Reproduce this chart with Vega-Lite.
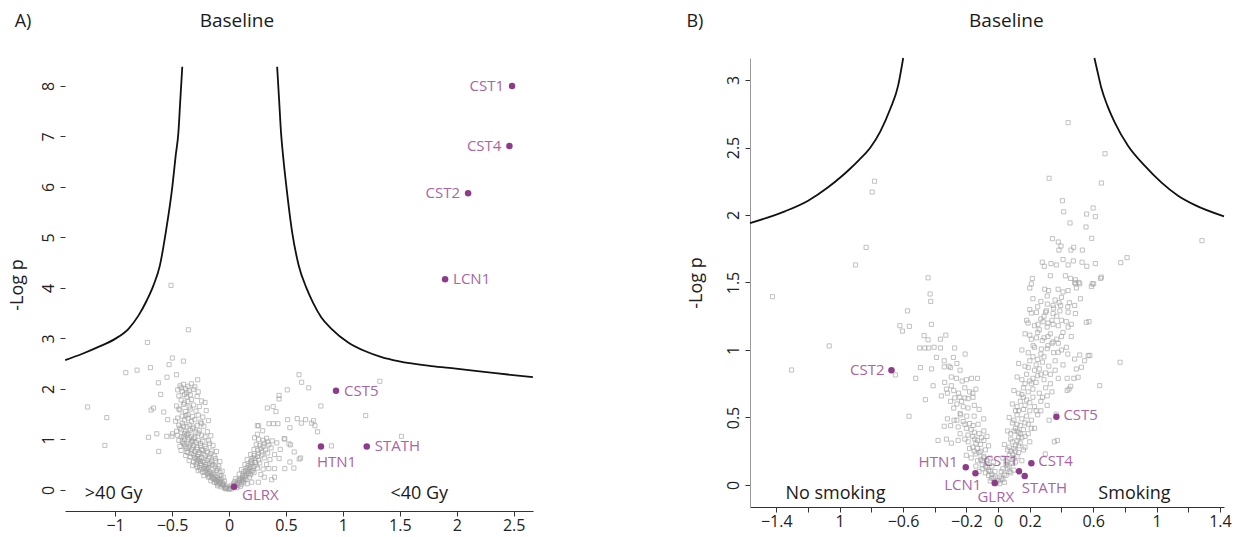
{
  "$schema": "https://vega.github.io/schema/vega-lite/v6.json",
  "padding": {"left": 8, "top": 12, "right": 4, "bottom": 2},
  "spacing": 149,
  "config": {
    "view": {"stroke": null},
    "font": "Open Sans",
    "axis": {
      "grid": false,
      "domainColor": "#333333",
      "tickColor": "#333333",
      "labelColor": "#222222",
      "titleColor": "#222222",
      "labelFont": "Open Sans",
      "titleFont": "Open Sans",
      "labelFontSize": 16,
      "titleFontSize": 18,
      "titleFontWeight": "normal",
      "tickSize": 5,
      "labelPadding": 4,
      "format": "~g"
    },
    "axisX": {"labelPadding": 1}
  },
  "datasets": {
    "ptsA": [
      {"x":-0.509,"y":4.05},{"x":-0.356,"y":3.17},{"x":-0.716,"y":2.92},{"x":-0.497,"y":2.61},{"x":-0.40,"y":2.55},
      {"x":-0.526,"y":2.48},{"x":-0.69,"y":2.42},{"x":-0.807,"y":2.37},{"x":-0.906,"y":2.32},{"x":-0.461,"y":2.28},
      {"x":-0.544,"y":2.23},{"x":-0.62,"y":2.12},{"x":-0.275,"y":2.18},{"x":-0.60,"y":1.89},{"x":-1.242,"y":1.64},
      {"x":-0.663,"y":1.62},{"x":-0.684,"y":1.58},{"x":-1.073,"y":1.43},{"x":-0.538,"y":1.39},{"x":-0.707,"y":1.04},
      {"x":-0.634,"y":1.11},{"x":-0.546,"y":1.06},{"x":-0.50,"y":1.06},{"x":-1.09,"y":0.88},{"x":-0.617,"y":0.76},
      {"x":-0.573,"y":1.54},{"x":-0.496,"y":1.11},
      {"x":-0.43,"y":2.06},{"x":-0.40,"y":2.09},{"x":-0.36,"y":2.05},{"x":-0.33,"y":2.1},{"x":-0.30,"y":2.04},
      {"x":-0.45,"y":1.98},{"x":-0.41,"y":1.95},{"x":-0.38,"y":2.0},{"x":-0.35,"y":1.96},{"x":-0.31,"y":1.99},{"x":-0.27,"y":1.94},
      {"x":-0.44,"y":1.86},{"x":-0.39,"y":1.89},{"x":-0.37,"y":1.84},{"x":-0.34,"y":1.88},{"x":-0.28,"y":1.85},
      {"x":-0.42,"y":1.78},{"x":-0.36,"y":1.75},{"x":-0.33,"y":1.79},{"x":-0.24,"y":1.76},{"x":-0.21,"y":1.73},
      {"x":-0.46,"y":1.66},{"x":-0.40,"y":1.69},{"x":-0.35,"y":1.64},{"x":-0.31,"y":1.68},{"x":-0.26,"y":1.65},
      {"x":-0.43,"y":1.58},{"x":-0.38,"y":1.55},{"x":-0.34,"y":1.6},{"x":-0.29,"y":1.56},{"x":-0.20,"y":1.57},
      {"x":-0.41,"y":1.46},{"x":-0.36,"y":1.49},{"x":-0.32,"y":1.45},{"x":-0.27,"y":1.48},{"x":-0.23,"y":1.44},
      {"x":-0.47,"y":1.36},{"x":-0.39,"y":1.38},{"x":-0.33,"y":1.35},{"x":-0.30,"y":1.39},{"x":-0.25,"y":1.34},{"x":-0.18,"y":1.37},
      {"x":-0.44,"y":1.28},{"x":-0.37,"y":1.25},{"x":-0.35,"y":1.29},{"x":-0.31,"y":1.24},{"x":-0.28,"y":1.27},{"x":-0.22,"y":1.26},
      {"x":-0.46,"y":1.16},{"x":-0.42,"y":1.19},{"x":-0.38,"y":1.15},{"x":-0.34,"y":1.18},{"x":-0.29,"y":1.14},{"x":-0.26,"y":1.17},{"x":-0.19,"y":1.15},
      {"x":-0.45,"y":1.08},{"x":-0.40,"y":1.05},{"x":-0.37,"y":1.09},{"x":-0.33,"y":1.06},{"x":-0.30,"y":1.04},{"x":-0.24,"y":1.08},{"x":-0.21,"y":1.05},{"x":-0.16,"y":1.07},
      {"x":-0.44,"y":0.98},{"x":-0.41,"y":0.95},{"x":-0.36,"y":0.99},{"x":-0.32,"y":0.96},{"x":-0.29,"y":0.94},{"x":-0.27,"y":0.98},{"x":-0.23,"y":0.96},{"x":-0.18,"y":0.97},
      {"x":-0.43,"y":0.86},{"x":-0.39,"y":0.89},{"x":-0.35,"y":0.85},{"x":-0.31,"y":0.88},{"x":-0.28,"y":0.84},{"x":-0.25,"y":0.87},{"x":-0.21,"y":0.86},{"x":-0.14,"y":0.88},
      {"x":-0.42,"y":0.78},{"x":-0.37,"y":0.75},{"x":-0.33,"y":0.79},{"x":-0.30,"y":0.76},{"x":-0.26,"y":0.74},{"x":-0.23,"y":0.78},{"x":-0.19,"y":0.75},{"x":-0.15,"y":0.77},{"x":-0.11,"y":0.76},
      {"x":-0.38,"y":0.68},{"x":-0.34,"y":0.65},{"x":-0.31,"y":0.69},{"x":-0.28,"y":0.66},{"x":-0.24,"y":0.64},{"x":-0.21,"y":0.68},{"x":-0.17,"y":0.65},{"x":-0.13,"y":0.67},
      {"x":-0.35,"y":0.58},{"x":-0.31,"y":0.55},{"x":-0.27,"y":0.59},{"x":-0.25,"y":0.56},{"x":-0.22,"y":0.54},{"x":-0.19,"y":0.58},{"x":-0.15,"y":0.55},{"x":-0.12,"y":0.57},{"x":-0.08,"y":0.56},
      {"x":-0.32,"y":0.48},{"x":-0.28,"y":0.45},{"x":-0.24,"y":0.49},{"x":-0.21,"y":0.46},{"x":-0.18,"y":0.44},{"x":-0.15,"y":0.48},{"x":-0.12,"y":0.45},{"x":-0.09,"y":0.47},
      {"x":-0.27,"y":0.38},{"x":-0.23,"y":0.35},{"x":-0.20,"y":0.39},{"x":-0.17,"y":0.36},{"x":-0.14,"y":0.34},{"x":-0.11,"y":0.38},{"x":-0.08,"y":0.35},{"x":-0.06,"y":0.37},
      {"x":-0.22,"y":0.28},{"x":-0.18,"y":0.25},{"x":-0.15,"y":0.29},{"x":-0.12,"y":0.26},{"x":-0.10,"y":0.24},{"x":-0.07,"y":0.28},{"x":-0.05,"y":0.25},
      {"x":-0.16,"y":0.18},{"x":-0.13,"y":0.15},{"x":-0.10,"y":0.19},{"x":-0.08,"y":0.16},{"x":-0.06,"y":0.14},{"x":-0.04,"y":0.17},
      {"x":-0.10,"y":0.08},{"x":-0.07,"y":0.06},{"x":-0.05,"y":0.09},{"x":-0.03,"y":0.05},{"x":-0.02,"y":0.07},{"x":-0.03,"y":0.02},{"x":0.0,"y":0.01},
      {"x":-0.27,"y":1.12},{"x":-0.31,"y":1.01},{"x":-0.25,"y":0.92},{"x":-0.34,"y":0.91},{"x":-0.2,"y":0.82},{"x":-0.28,"y":0.8},{"x":-0.22,"y":0.71},
      {"x":-0.18,"y":0.62},{"x":-0.29,"y":0.61},{"x":-0.14,"y":0.5},{"x":-0.25,"y":0.52},{"x":-0.19,"y":0.41},{"x":-0.13,"y":0.31},{"x":-0.09,"y":0.21},
      {"x":-0.35,"y":1.03},{"x":-0.39,"y":1.11},{"x":-0.32,"y":1.21},{"x":-0.41,"y":1.32},{"x":-0.36,"y":1.42},{"x":-0.24,"y":1.31},{"x":-0.17,"y":0.92},
      {"x":-0.12,"y":0.62},{"x":-0.1,"y":0.42},{"x":-0.16,"y":0.72},{"x":-0.37,"y":0.82},{"x":-0.4,"y":0.92},
      {"x":-0.05,"y":0.12},{"x":-0.08,"y":0.13},{"x":-0.11,"y":0.14},{"x":-0.07,"y":0.22},{"x":-0.12,"y":0.2},{"x":-0.14,"y":0.23},{"x":-0.17,"y":0.27},
      {"x":-0.19,"y":0.31},{"x":-0.16,"y":0.33},{"x":-0.21,"y":0.35},{"x":-0.22,"y":0.42},{"x":-0.26,"y":0.44},{"x":-0.25,"y":0.4},{"x":-0.29,"y":0.5},
      {"x":-0.2,"y":0.5},{"x":-0.17,"y":0.52},{"x":-0.23,"y":0.57},{"x":-0.28,"y":0.55},{"x":-0.3,"y":0.64},{"x":-0.26,"y":0.62},{"x":-0.33,"y":0.72},
      {"x":-0.27,"y":0.7},{"x":-0.24,"y":0.8},{"x":-0.32,"y":0.83},{"x":-0.36,"y":0.74},{"x":-0.38,"y":0.86},{"x":-0.33,"y":0.95},{"x":-0.39,"y":1.0},
      {"x":-0.42,"y":1.05},{"x":-0.36,"y":1.12},{"x":-0.43,"y":1.22},{"x":-0.4,"y":1.26},{"x":-0.45,"y":1.42},{"x":-0.38,"y":1.47},{"x":-0.44,"y":1.6},
      {"x":-0.39,"y":1.72},{"x":-0.37,"y":1.92},{"x":-0.42,"y":2.02},
      {"x":-0.02,"y":0.03},{"x":-0.04,"y":0.04},{"x":-0.06,"y":0.1},{"x":-0.09,"y":0.11},{"x":-0.11,"y":0.17},{"x":-0.13,"y":0.21},
      {"x":-0.15,"y":0.24},{"x":-0.18,"y":0.32},{"x":-0.2,"y":0.43},
      {"x":0.615,"y":2.28},{"x":0.638,"y":2.13},{"x":0.70,"y":2.02},{"x":0.512,"y":1.98},{"x":0.44,"y":1.87},{"x":0.44,"y":1.80},
      {"x":0.807,"y":1.66},{"x":0.337,"y":1.62},{"x":0.413,"y":1.55},{"x":1.20,"y":1.47},{"x":0.515,"y":1.39},{"x":0.60,"y":1.41},
      {"x":0.673,"y":1.39},{"x":0.743,"y":1.37},{"x":0.755,"y":1.27},{"x":0.726,"y":1.32},{"x":0.635,"y":1.32},{"x":0.351,"y":1.31},
      {"x":0.39,"y":1.31},{"x":0.43,"y":1.31},{"x":0.249,"y":1.27},{"x":0.535,"y":1.23},{"x":0.778,"y":1.15},{"x":0.296,"y":1.17},
      {"x":0.49,"y":1.01},{"x":0.541,"y":0.89},{"x":0.90,"y":0.87},{"x":1.515,"y":1.06},{"x":1.325,"y":2.15},{"x":0.573,"y":0.75},
      {"x":0.629,"y":0.63},{"x":0.535,"y":0.55},{"x":0.40,"y":0.42},{"x":0.49,"y":0.42},{"x":0.40,"y":0.25},{"x":0.31,"y":0.25},
      {"x":0.258,"y":0.15},{"x":0.57,"y":0.43},{"x":0.617,"y":0.61},{"x":0.375,"y":0.2},{"x":0.485,"y":1.01},{"x":0.527,"y":0.91},
      {"x":0.225,"y":1.03},{"x":0.25,"y":1.1},{"x":0.26,"y":1.27},{"x":0.388,"y":1.65},
      {"x":0.01,"y":0.03},{"x":0.03,"y":0.05},{"x":0.07,"y":0.04},{"x":0.04,"y":0.12},{"x":0.06,"y":0.1},{"x":0.09,"y":0.14},{"x":0.11,"y":0.11},{"x":0.13,"y":0.15},
      {"x":0.06,"y":0.22},{"x":0.09,"y":0.2},{"x":0.12,"y":0.24},{"x":0.15,"y":0.21},{"x":0.18,"y":0.25},{"x":0.09,"y":0.31},{"x":0.12,"y":0.29},{"x":0.15,"y":0.33},
      {"x":0.19,"y":0.3},{"x":0.22,"y":0.34},{"x":0.11,"y":0.4},{"x":0.15,"y":0.38},{"x":0.18,"y":0.42},{"x":0.21,"y":0.39},{"x":0.25,"y":0.43},{"x":0.3,"y":0.41},
      {"x":0.14,"y":0.5},{"x":0.17,"y":0.48},{"x":0.2,"y":0.52},{"x":0.24,"y":0.49},{"x":0.27,"y":0.53},{"x":0.33,"y":0.5},{"x":0.16,"y":0.6},{"x":0.2,"y":0.58},
      {"x":0.23,"y":0.62},{"x":0.26,"y":0.59},{"x":0.31,"y":0.63},{"x":0.36,"y":0.6},{"x":0.19,"y":0.7},{"x":0.22,"y":0.68},{"x":0.26,"y":0.72},{"x":0.29,"y":0.69},
      {"x":0.34,"y":0.73},{"x":0.4,"y":0.7},{"x":0.22,"y":0.8},{"x":0.25,"y":0.78},{"x":0.28,"y":0.82},{"x":0.32,"y":0.79},{"x":0.37,"y":0.83},{"x":0.24,"y":0.9},
      {"x":0.27,"y":0.88},{"x":0.31,"y":0.92},{"x":0.35,"y":0.89},{"x":0.42,"y":0.93},{"x":0.26,"y":1.0},{"x":0.3,"y":0.98},{"x":0.33,"y":1.02},{"x":0.38,"y":0.97},
      {"x":0.45,"y":0.8},{"x":0.44,"y":0.62},{"x":0.35,"y":0.42},{"x":0.28,"y":0.3},{"x":0.2,"y":0.15},{"x":0.16,"y":0.12},{"x":0.1,"y":0.07},
      {"x":0.02,"y":0.08},{"x":0.05,"y":0.16},{"x":0.08,"y":0.18},{"x":0.1,"y":0.22},{"x":0.14,"y":0.26},{"x":0.17,"y":0.32},{"x":0.13,"y":0.36},
      {"x":0.2,"y":0.36},{"x":0.16,"y":0.44},{"x":0.22,"y":0.46},{"x":0.19,"y":0.55},{"x":0.23,"y":0.54},{"x":0.25,"y":0.66},{"x":0.21,"y":0.63},
      {"x":0.29,"y":0.75},{"x":0.3,"y":0.86},{"x":0.34,"y":0.95},
      {"x":0.02,"y":0.02},{"x":0.04,"y":0.07},{"x":0.07,"y":0.12},{"x":0.08,"y":0.09},{"x":0.11,"y":0.18},{"x":0.13,"y":0.21},{"x":0.14,"y":0.29},
      {"x":0.17,"y":0.36},{"x":0.19,"y":0.46},{"x":0.12,"y":0.18}
    ],
    "ptsB": [
      {"x":-0.78,"y":2.25},{"x":-0.795,"y":2.17},{"x":-0.833,"y":1.76},{"x":-0.90,"y":1.63},{"x":-1.424,"y":1.395},{"x":-0.442,"y":1.535},
      {"x":-0.429,"y":1.415},{"x":-0.425,"y":1.36},{"x":-0.572,"y":1.29},{"x":-0.62,"y":1.18},{"x":-0.604,"y":1.14},{"x":-0.56,"y":1.175},
      {"x":-0.421,"y":1.19},{"x":-0.467,"y":1.106},{"x":-0.442,"y":1.076},{"x":-0.364,"y":1.08},{"x":-0.33,"y":1.11},{"x":-1.066,"y":1.03},
      {"x":-0.495,"y":1.015},{"x":-0.463,"y":1.015},{"x":-0.438,"y":1.015},{"x":-0.404,"y":1.02},{"x":-0.364,"y":1.015},{"x":-0.274,"y":1.015},
      {"x":-0.208,"y":0.97},{"x":-0.389,"y":0.945},{"x":-0.34,"y":0.92},{"x":-0.282,"y":0.945},{"x":-1.304,"y":0.852},{"x":-0.648,"y":0.815},
      {"x":-0.49,"y":0.87},{"x":-0.42,"y":0.86},{"x":-0.34,"y":0.875},{"x":-0.30,"y":0.87},{"x":-0.52,"y":0.79},{"x":-0.295,"y":0.80},
      {"x":-0.263,"y":0.79},{"x":-0.227,"y":0.77},{"x":-0.2,"y":0.78},{"x":-0.168,"y":0.79},{"x":-0.13,"y":0.79},{"x":-0.41,"y":0.735},
      {"x":-0.337,"y":0.76},{"x":-0.326,"y":0.71},{"x":-0.295,"y":0.735},{"x":-0.358,"y":0.66},{"x":-0.459,"y":0.632},{"x":-0.274,"y":0.645},
      {"x":-0.242,"y":0.65},{"x":-0.21,"y":0.645},{"x":-0.158,"y":0.65},{"x":-0.562,"y":0.509},{"x":-0.32,"y":0.49},{"x":-0.278,"y":0.48},
      {"x":-0.236,"y":0.52},{"x":-0.198,"y":0.51},{"x":-0.151,"y":0.51},{"x":-0.091,"y":0.49},{"x":-0.34,"y":0.435},{"x":-0.3,"y":0.44},
      {"x":-0.252,"y":0.43},{"x":-0.21,"y":0.45},{"x":-0.18,"y":0.455},{"x":-0.158,"y":0.44},{"x":-0.126,"y":0.45},{"x":-0.379,"y":0.33},
      {"x":-0.326,"y":0.34},{"x":-0.295,"y":0.31},{"x":-0.252,"y":0.33},{"x":-0.21,"y":0.34},{"x":-0.189,"y":0.32},{"x":-0.147,"y":0.34},{"x":-0.105,"y":0.35},
      {"x":-0.2,"y":0.22},{"x":-0.17,"y":0.2},{"x":-0.14,"y":0.23},{"x":-0.11,"y":0.19},{"x":-0.09,"y":0.21},{"x":-0.07,"y":0.18},{"x":-0.05,"y":0.2},{"x":-0.03,"y":0.17},
      {"x":-0.16,"y":0.28},{"x":-0.13,"y":0.27},{"x":-0.11,"y":0.3},{"x":-0.08,"y":0.26},{"x":-0.06,"y":0.29},
      {"x":-0.12,"y":0.1},{"x":-0.1,"y":0.12},{"x":-0.08,"y":0.09},{"x":-0.06,"y":0.11},{"x":-0.04,"y":0.08},{"x":-0.02,"y":0.1},
      {"x":-0.05,"y":0.03},{"x":-0.03,"y":0.05},{"x":-0.01,"y":0.02},
      {"x":-0.24,"y":0.38},{"x":-0.19,"y":0.37},{"x":-0.15,"y":0.39},{"x":-0.12,"y":0.38},{"x":-0.09,"y":0.4},{"x":-0.07,"y":0.36},
      {"x":-0.26,"y":0.6},{"x":-0.22,"y":0.58},{"x":-0.19,"y":0.57},{"x":-0.15,"y":0.59},{"x":-0.12,"y":0.56},
      {"x":-0.28,"y":0.7},{"x":-0.25,"y":0.68},{"x":-0.21,"y":0.72},{"x":-0.18,"y":0.69},{"x":-0.14,"y":0.71},
      {"x":-0.31,"y":0.88},{"x":-0.26,"y":0.9},{"x":-0.24,"y":0.85},
      {"x":-0.14,"y":0.14},{"x":-0.1,"y":0.15},{"x":-0.07,"y":0.13},{"x":-0.04,"y":0.14},
      {"x":-0.02,"y":0.06},{"x":-0.04,"y":0.05},{"x":-0.06,"y":0.07},{"x":-0.08,"y":0.14},{"x":-0.1,"y":0.18},{"x":-0.13,"y":0.18},{"x":-0.12,"y":0.24},
      {"x":-0.15,"y":0.25},{"x":-0.18,"y":0.27},{"x":-0.09,"y":0.33},{"x":-0.13,"y":0.33},{"x":-0.17,"y":0.41},{"x":-0.2,"y":0.42},{"x":-0.22,"y":0.47},
      {"x":-0.26,"y":0.48},{"x":-0.24,"y":0.53},{"x":-0.28,"y":0.57},{"x":-0.3,"y":0.62},{"x":-0.32,"y":0.68},{"x":-0.23,"y":0.62},{"x":-0.19,"y":0.64},{"x":-0.16,"y":0.68},
      {"x":-0.02,"y":0.01},{"x":-0.05,"y":0.1},{"x":-0.07,"y":0.16},{"x":-0.09,"y":0.2},{"x":-0.11,"y":0.25},{"x":-0.14,"y":0.31},{"x":-0.16,"y":0.36},
      {"x":0.442,"y":2.684},{"x":0.675,"y":2.454},{"x":0.322,"y":2.272},{"x":0.652,"y":2.237},{"x":0.406,"y":2.106},{"x":0.414,"y":2.024},
      {"x":0.60,"y":2.052},{"x":0.559,"y":2.007},{"x":0.614,"y":1.988},{"x":0.454,"y":1.941},{"x":0.555,"y":1.911},{"x":0.591,"y":1.827},
      {"x":0.343,"y":1.825},{"x":0.38,"y":1.80},{"x":0.397,"y":1.77},{"x":0.384,"y":1.74},{"x":0.477,"y":1.76},{"x":0.46,"y":1.74},
      {"x":0.532,"y":1.74},{"x":1.287,"y":1.81},{"x":0.279,"y":1.65},{"x":0.292,"y":1.62},{"x":0.334,"y":1.64},{"x":0.368,"y":1.63},
      {"x":0.41,"y":1.67},{"x":0.442,"y":1.63},{"x":0.475,"y":1.66},{"x":0.53,"y":1.65},{"x":0.56,"y":1.62},{"x":0.614,"y":1.64},
      {"x":0.774,"y":1.647},{"x":0.814,"y":1.684},{"x":0.216,"y":1.53},{"x":0.33,"y":1.55},{"x":0.425,"y":1.55},{"x":0.458,"y":1.53},
      {"x":0.488,"y":1.52},{"x":0.51,"y":1.50},{"x":0.49,"y":1.49},{"x":0.647,"y":1.53},{"x":0.595,"y":1.49},
      {"x":0.21,"y":1.49},{"x":0.294,"y":1.45},{"x":0.319,"y":1.44},{"x":0.379,"y":1.45},{"x":0.41,"y":1.43},{"x":0.442,"y":1.44},
      {"x":0.483,"y":1.5},{"x":0.515,"y":1.49},{"x":0.494,"y":1.46},{"x":0.589,"y":1.47},{"x":0.2,"y":1.459},
      {"x":0.311,"y":1.34},{"x":0.347,"y":1.33},{"x":0.385,"y":1.35},{"x":0.395,"y":1.33},{"x":0.442,"y":1.28},{"x":0.483,"y":1.33},
      {"x":0.305,"y":1.29},{"x":0.347,"y":1.27},{"x":0.488,"y":1.27},{"x":0.21,"y":1.274},{"x":0.242,"y":1.279},{"x":0.557,"y":1.205},
      {"x":0.189,"y":1.2},{"x":0.252,"y":1.19},{"x":0.284,"y":1.21},{"x":0.315,"y":1.2},{"x":0.347,"y":1.19},{"x":0.40,"y":1.22},
      {"x":0.442,"y":1.17},{"x":0.462,"y":1.19},{"x":0.2,"y":1.11},{"x":0.242,"y":1.09},{"x":0.279,"y":1.07},{"x":0.315,"y":1.1},
      {"x":0.347,"y":1.06},{"x":0.40,"y":1.1},{"x":0.38,"y":1.05},{"x":0.462,"y":1.1},{"x":0.221,"y":1.032},{"x":0.273,"y":1.007},
      {"x":0.315,"y":1.032},{"x":0.379,"y":0.983},{"x":0.431,"y":1.02},{"x":0.483,"y":0.933},{"x":0.515,"y":0.963},{"x":0.568,"y":0.958},
      {"x":0.546,"y":0.921},{"x":0.494,"y":0.859},{"x":0.526,"y":0.872},{"x":0.505,"y":0.798},{"x":0.448,"y":0.711},{"x":0.458,"y":0.731},
      {"x":0.641,"y":0.736},{"x":0.77,"y":0.909},{"x":0.574,"y":1.21},{"x":0.652,"y":1.54},{"x":0.603,"y":1.49},{"x":0.579,"y":0.96},
      {"x":0.436,"y":0.79},{"x":0.478,"y":0.79},{"x":0.436,"y":0.70},{"x":0.322,"y":0.48},{"x":0.367,"y":0.525},{"x":0.355,"y":0.32},
      {"x":0.374,"y":0.33},{"x":0.298,"y":0.23},
      {"x":0.22,"y":1.38},{"x":0.27,"y":1.36},{"x":0.31,"y":1.4},{"x":0.36,"y":1.37},{"x":0.40,"y":1.39},{"x":0.45,"y":1.35},{"x":0.52,"y":1.38},
      {"x":0.20,"y":1.3},{"x":0.25,"y":1.32},{"x":0.30,"y":1.28},{"x":0.35,"y":1.31},{"x":0.39,"y":1.29},{"x":0.44,"y":1.32},
      {"x":0.18,"y":1.22},{"x":0.23,"y":1.18},{"x":0.27,"y":1.23},{"x":0.31,"y":1.17},{"x":0.34,"y":1.22},{"x":0.38,"y":1.18},{"x":0.43,"y":1.21},
      {"x":0.17,"y":1.12},{"x":0.21,"y":1.08},{"x":0.25,"y":1.13},{"x":0.29,"y":1.09},{"x":0.33,"y":1.12},{"x":0.37,"y":1.08},{"x":0.41,"y":1.13},
      {"x":0.15,"y":1.0},{"x":0.19,"y":0.98},{"x":0.23,"y":1.02},{"x":0.27,"y":0.97},{"x":0.31,"y":1.01},{"x":0.35,"y":0.98},{"x":0.40,"y":1.0},{"x":0.44,"y":0.97},
      {"x":0.13,"y":0.9},{"x":0.17,"y":0.88},{"x":0.20,"y":0.92},{"x":0.24,"y":0.89},{"x":0.28,"y":0.91},{"x":0.32,"y":0.88},{"x":0.36,"y":0.92},{"x":0.41,"y":0.89},
      {"x":0.12,"y":0.8},{"x":0.15,"y":0.78},{"x":0.18,"y":0.82},{"x":0.22,"y":0.79},{"x":0.25,"y":0.81},{"x":0.29,"y":0.78},{"x":0.33,"y":0.82},{"x":0.38,"y":0.79},
      {"x":0.10,"y":0.7},{"x":0.13,"y":0.68},{"x":0.16,"y":0.72},{"x":0.19,"y":0.69},{"x":0.22,"y":0.71},{"x":0.26,"y":0.68},{"x":0.30,"y":0.72},{"x":0.34,"y":0.69},
      {"x":0.09,"y":0.6},{"x":0.12,"y":0.58},{"x":0.14,"y":0.62},{"x":0.17,"y":0.59},{"x":0.20,"y":0.61},{"x":0.23,"y":0.58},{"x":0.27,"y":0.62},{"x":0.31,"y":0.59},
      {"x":0.07,"y":0.5},{"x":0.10,"y":0.48},{"x":0.12,"y":0.52},{"x":0.15,"y":0.49},{"x":0.18,"y":0.51},{"x":0.21,"y":0.48},{"x":0.25,"y":0.52},
      {"x":0.06,"y":0.4},{"x":0.08,"y":0.38},{"x":0.11,"y":0.42},{"x":0.13,"y":0.39},{"x":0.16,"y":0.41},{"x":0.19,"y":0.38},{"x":0.23,"y":0.42},
      {"x":0.04,"y":0.3},{"x":0.07,"y":0.28},{"x":0.09,"y":0.32},{"x":0.11,"y":0.29},{"x":0.14,"y":0.31},{"x":0.17,"y":0.28},{"x":0.2,"y":0.32},
      {"x":0.03,"y":0.2},{"x":0.05,"y":0.18},{"x":0.07,"y":0.22},{"x":0.09,"y":0.19},{"x":0.12,"y":0.21},{"x":0.15,"y":0.18},
      {"x":0.02,"y":0.1},{"x":0.04,"y":0.08},{"x":0.06,"y":0.12},{"x":0.08,"y":0.09},{"x":0.1,"y":0.11},
      {"x":0.0,"y":0.03},{"x":0.02,"y":0.05},{"x":0.04,"y":0.02},
      {"x":0.11,"y":0.55},{"x":0.16,"y":0.65},{"x":0.21,"y":0.75},{"x":0.26,"y":0.86},{"x":0.29,"y":0.95},{"x":0.24,"y":0.55},{"x":0.19,"y":0.45},
      {"x":0.13,"y":0.35},{"x":0.08,"y":0.25},{"x":0.28,"y":0.65},{"x":0.33,"y":0.75},{"x":0.36,"y":0.85},{"x":0.34,"y":1.05},{"x":0.26,"y":1.15},
      {"x":0.29,"y":1.25},{"x":0.37,"y":1.25},
      {"x":0.01,"y":0.06},{"x":0.03,"y":0.12},{"x":0.05,"y":0.15},{"x":0.07,"y":0.14},{"x":0.09,"y":0.23},{"x":0.06,"y":0.26},{"x":0.1,"y":0.27},
      {"x":0.12,"y":0.33},{"x":0.15,"y":0.35},{"x":0.08,"y":0.34},{"x":0.1,"y":0.4},{"x":0.14,"y":0.44},{"x":0.12,"y":0.45},{"x":0.17,"y":0.46},
      {"x":0.09,"y":0.46},{"x":0.13,"y":0.55},{"x":0.16,"y":0.56},{"x":0.2,"y":0.55},{"x":0.18,"y":0.63},{"x":0.22,"y":0.65},{"x":0.15,"y":0.67},
      {"x":0.2,"y":0.77},{"x":0.24,"y":0.76},{"x":0.17,"y":0.75},{"x":0.23,"y":0.85},{"x":0.27,"y":0.82},{"x":0.19,"y":0.87},{"x":0.25,"y":0.93},
      {"x":0.22,"y":0.95},{"x":0.3,"y":0.83},{"x":0.31,"y":0.66},{"x":0.27,"y":0.55},{"x":0.21,"y":0.42},{"x":0.17,"y":0.36},{"x":0.11,"y":0.17},
      {"x":0.13,"y":0.24},{"x":0.16,"y":0.26},
      {"x":0.01,"y":0.01},{"x":0.03,"y":0.04},{"x":0.05,"y":0.07},{"x":0.07,"y":0.1},{"x":0.06,"y":0.17},{"x":0.08,"y":0.16},{"x":0.1,"y":0.2},
      {"x":0.11,"y":0.25},{"x":0.13,"y":0.29},{"x":0.14,"y":0.38},{"x":0.12,"y":0.4}
    ],
    "curveA": [
      {"branch":"left","x":-1.438,"y":2.57},{"branch":"left","x":-1.292,"y":2.69},{"branch":"left","x":-1.146,"y":2.83},
      {"branch":"left","x":-1.0,"y":2.99},{"branch":"left","x":-0.882,"y":3.19},{"branch":"left","x":-0.795,"y":3.45},
      {"branch":"left","x":-0.722,"y":3.75},{"branch":"left","x":-0.663,"y":4.05},{"branch":"left","x":-0.607,"y":4.44},
      {"branch":"left","x":-0.555,"y":5.1},{"branch":"left","x":-0.496,"y":6.03},{"branch":"left","x":-0.468,"y":6.62},
      {"branch":"left","x":-0.444,"y":7.08},{"branch":"left","x":-0.427,"y":7.74},{"branch":"left","x":-0.41,"y":8.38},
      {"branch":"right","x":0.423,"y":8.38},{"branch":"right","x":0.44,"y":7.74},{"branch":"right","x":0.457,"y":7.08},
      {"branch":"right","x":0.475,"y":6.62},{"branch":"right","x":0.503,"y":6.03},{"branch":"right","x":0.555,"y":5.1},
      {"branch":"right","x":0.613,"y":4.44},{"branch":"right","x":0.68,"y":4.0},{"branch":"right","x":0.74,"y":3.7},
      {"branch":"right","x":0.81,"y":3.42},{"branch":"right","x":0.90,"y":3.19},{"branch":"right","x":1.047,"y":2.92},
      {"branch":"right","x":1.193,"y":2.75},{"branch":"right","x":1.34,"y":2.63},{"branch":"right","x":1.486,"y":2.55},
      {"branch":"right","x":1.778,"y":2.45},{"branch":"right","x":1.993,"y":2.40},{"branch":"right","x":2.34,"y":2.31},
      {"branch":"right","x":2.669,"y":2.23}
    ],
    "curveB": [
      {"branch":"left","x":-1.566,"y":1.94},{"branch":"left","x":-1.346,"y":2.027},{"branch":"left","x":-1.199,"y":2.106},
      {"branch":"left","x":-1.073,"y":2.205},{"branch":"left","x":-0.989,"y":2.285},{"branch":"left","x":-0.936,"y":2.341},
      {"branch":"left","x":-0.88,"y":2.405},{"branch":"left","x":-0.806,"y":2.50},{"branch":"left","x":-0.743,"y":2.62},
      {"branch":"left","x":-0.681,"y":2.785},{"branch":"left","x":-0.631,"y":2.958},{"branch":"left","x":-0.599,"y":3.163},
      {"branch":"right","x":0.608,"y":3.163},{"branch":"right","x":0.63,"y":3.05},{"branch":"right","x":0.652,"y":2.94},
      {"branch":"right","x":0.69,"y":2.81},{"branch":"right","x":0.736,"y":2.686},{"branch":"right","x":0.82,"y":2.513},
      {"branch":"right","x":0.925,"y":2.365},{"branch":"right","x":1.03,"y":2.242},{"branch":"right","x":1.136,"y":2.143},
      {"branch":"right","x":1.24,"y":2.075},{"branch":"right","x":1.426,"y":1.99}
    ],
    "genesA": [
      {"gene":"CST1","x":2.486,"y":8.0},{"gene":"CST4","x":2.463,"y":6.81},{"gene":"CST2","x":2.10,"y":5.875},
      {"gene":"LCN1","x":1.898,"y":4.17},{"gene":"CST5","x":0.94,"y":1.96},{"gene":"HTN1","x":0.808,"y":0.86},
      {"gene":"STATH","x":1.21,"y":0.86},{"gene":"GLRX","x":0.045,"y":0.06}
    ],
    "genesB": [
      {"gene":"CST2","x":-0.673,"y":0.85},{"gene":"CST5","x":0.368,"y":0.506},{"gene":"CST4","x":0.21,"y":0.161},
      {"gene":"HTN1","x":-0.204,"y":0.131},{"gene":"LCN1","x":-0.143,"y":0.087},{"gene":"GLRX","x":-0.021,"y":0.015},
      {"gene":"CST1","x":0.132,"y":0.101},{"gene":"STATH","x":0.168,"y":0.067}
    ],
    "notesA": [
      {"x":-1.266,"y":-0.178,"t":">40 Gy","role":"group"},{"x":1.418,"y":-0.178,"t":"<40 Gy","role":"group"},
      {"x":-1.882,"y":9.163,"t":"A)","role":"head"},{"x":0.07,"y":9.163,"t":"Baseline","role":"title"}
    ],
    "notesB": [
      {"x":-1.342,"y":-0.104,"t":"No smoking","role":"group"},{"x":0.633,"y":-0.104,"t":"Smoking","role":"group"},
      {"x":-1.967,"y":3.39,"t":"B)","role":"head"},{"x":0.052,"y":3.39,"t":"Baseline","role":"title"}
    ]
  },
  "hconcat": [
    {
      "width": 468,
      "height": 453,
      "encoding": {
        "x": {"field": "x", "type": "quantitative",
              "scale": {"domain": [-1.44, 2.67], "nice": false, "zero": false},
              "axis": {"title": null, "values": [-1, -0.5, 0, 0.5, 1, 1.5, 2, 2.5]}},
        "y": {"field": "y", "type": "quantitative",
              "scale": {"domain": [-0.42, 8.554], "nice": false, "zero": false},
              "axis": {"title": "-Log p", "values": [0, 1, 2, 3, 4, 5, 6, 7, 8], "domain": false,
                       "labelAngle": -90, "labelAlign": "center", "labelBaseline": "bottom",
                       "titlePadding": 14}}
      },
      "layer": [
        {"data": {"values": [{}]},
         "mark": {"type": "rule", "color": "#333333", "strokeWidth": 1},
         "encoding": {"x": {"datum": -1.44}, "y": {"datum": -0.42}, "y2": {"datum": 8.38}}},
        {"data": {"name": "ptsA"},
         "mark": {"type": "square", "filled": false, "stroke": "#9e9e9e", "strokeWidth": 0.9, "size": 17}},
        {"data": {"name": "curveA"},
         "mark": {"type": "line", "color": "#111111", "strokeWidth": 1.8, "interpolate": "monotone"},
         "encoding": {"detail": {"field": "branch"}}},
        {"data": {"name": "genesA"},
         "mark": {"type": "circle", "color": "#8e3c8a", "opacity": 1, "size": 42}},
        {"data": {"name": "genesA"},
         "transform": [{"filter": {"field": "gene", "oneOf": ["CST1", "CST4", "CST2"]}}],
         "mark": {"type": "text", "align": "right", "baseline": "middle", "dx": -8, "fontSize": 15, "color": "#a866a3"},
         "encoding": {"text": {"field": "gene"}}},
        {"data": {"name": "genesA"},
         "transform": [{"filter": {"field": "gene", "oneOf": ["LCN1", "CST5", "STATH"]}}],
         "mark": {"type": "text", "align": "left", "baseline": "middle", "dx": 8, "fontSize": 15, "color": "#a866a3"},
         "encoding": {"text": {"field": "gene"}}},
        {"data": {"name": "genesA"},
         "transform": [{"filter": {"field": "gene", "equal": "HTN1"}}],
         "mark": {"type": "text", "align": "left", "baseline": "middle", "dx": -4, "dy": 16, "fontSize": 15, "color": "#a866a3"},
         "encoding": {"text": {"field": "gene"}}},
        {"data": {"name": "genesA"},
         "transform": [{"filter": {"field": "gene", "equal": "GLRX"}}],
         "mark": {"type": "text", "align": "left", "baseline": "middle", "dx": 8, "dy": 8, "fontSize": 15, "color": "#a866a3"},
         "encoding": {"text": {"field": "gene"}}},
        {"data": {"name": "notesA"},
         "transform": [{"filter": {"field": "role", "oneOf": ["group", "head"]}}],
         "mark": {"type": "text", "align": "left", "baseline": "alphabetic", "fontSize": 18, "color": "#1a1a1a"},
         "encoding": {"text": {"field": "t"}}},
        {"data": {"name": "notesA"},
         "transform": [{"filter": {"field": "role", "equal": "title"}}],
         "mark": {"type": "text", "align": "center", "baseline": "alphabetic", "fontSize": 19, "color": "#1a1a1a"},
         "encoding": {"text": {"field": "t"}}}
      ]
    },
    {
      "width": 474,
      "height": 449,
      "encoding": {
        "x": {"field": "x", "type": "quantitative",
              "scale": {"domain": [-1.566, 1.426], "nice": false, "zero": false},
              "axis": {"title": null,
                       "values": [-1.4, -1.2, -1, -0.8, -0.6, -0.4, -0.2, 0, 0.2, 0.4, 0.6, 0.8, 1, 1.2, 1.4],
                       "labelExpr": "datum.value == -1 ? '1' : (indexof([-1.2, -0.8, -0.4, 0.4, 0.8, 1.2], datum.value) >= 0 ? '' : datum.label)"}},
        "y": {"field": "y", "type": "quantitative",
              "scale": {"domain": [-0.163, 3.163], "nice": false, "zero": false},
              "axis": {"title": "-Log p", "values": [0, 0.5, 1, 1.5, 2, 2.5, 3],
                       "labelAngle": -90, "labelAlign": "center", "labelBaseline": "bottom",
                       "domainColor": "#9a9a9a", "titlePadding": 20}}
      },
      "layer": [
        {"data": {"name": "ptsB"},
         "mark": {"type": "square", "filled": false, "stroke": "#9e9e9e", "strokeWidth": 0.9, "size": 17}},
        {"data": {"name": "curveB"},
         "mark": {"type": "line", "color": "#111111", "strokeWidth": 1.8, "interpolate": "monotone"},
         "encoding": {"detail": {"field": "branch"}}},
        {"data": {"name": "genesB"},
         "mark": {"type": "circle", "color": "#8e3c8a", "opacity": 1, "size": 42}},
        {"data": {"name": "genesB"},
         "transform": [{"filter": {"field": "gene", "equal": "CST2"}}],
         "mark": {"type": "text", "align": "right", "baseline": "middle", "dx": -7, "fontSize": 15, "color": "#a866a3"},
         "encoding": {"text": {"field": "gene"}}},
        {"data": {"name": "genesB"},
         "transform": [{"filter": {"field": "gene", "equal": "HTN1"}}],
         "mark": {"type": "text", "align": "right", "baseline": "middle", "dx": -8, "dy": -5, "fontSize": 15, "color": "#a866a3"},
         "encoding": {"text": {"field": "gene"}}},
        {"data": {"name": "genesB"},
         "transform": [{"filter": {"field": "gene", "oneOf": ["CST5", "CST4"]}}],
         "mark": {"type": "text", "align": "left", "baseline": "middle", "dx": 7, "dy": -2, "fontSize": 15, "color": "#a866a3"},
         "encoding": {"text": {"field": "gene"}}},
        {"data": {"name": "genesB"},
         "transform": [{"filter": {"field": "gene", "equal": "LCN1"}}],
         "mark": {"type": "text", "align": "right", "baseline": "middle", "dx": 6, "dy": 12, "fontSize": 15, "color": "#a866a3"},
         "encoding": {"text": {"field": "gene"}}},
        {"data": {"name": "genesB"},
         "transform": [{"filter": {"field": "gene", "equal": "GLRX"}}],
         "mark": {"type": "text", "align": "center", "baseline": "middle", "dx": 1, "dy": 14, "fontSize": 15, "color": "#a866a3"},
         "encoding": {"text": {"field": "gene"}}},
        {"data": {"name": "genesB"},
         "transform": [{"filter": {"field": "gene", "equal": "CST1"}}],
         "mark": {"type": "text", "align": "right", "baseline": "middle", "dx": -1, "dy": -10, "fontSize": 15, "color": "#a866a3"},
         "encoding": {"text": {"field": "gene"}}},
        {"data": {"name": "genesB"},
         "transform": [{"filter": {"field": "gene", "equal": "STATH"}}],
         "mark": {"type": "text", "align": "left", "baseline": "middle", "dx": -3, "dy": 12, "fontSize": 15, "color": "#a866a3"},
         "encoding": {"text": {"field": "gene"}}},
        {"data": {"name": "notesB"},
         "transform": [{"filter": {"field": "role", "oneOf": ["group", "head"]}}],
         "mark": {"type": "text", "align": "left", "baseline": "alphabetic", "fontSize": 18, "color": "#1a1a1a"},
         "encoding": {"text": {"field": "t"}}},
        {"data": {"name": "notesB"},
         "transform": [{"filter": {"field": "role", "equal": "title"}}],
         "mark": {"type": "text", "align": "center", "baseline": "alphabetic", "fontSize": 19, "color": "#1a1a1a"},
         "encoding": {"text": {"field": "t"}}}
      ]
    }
  ]
}
